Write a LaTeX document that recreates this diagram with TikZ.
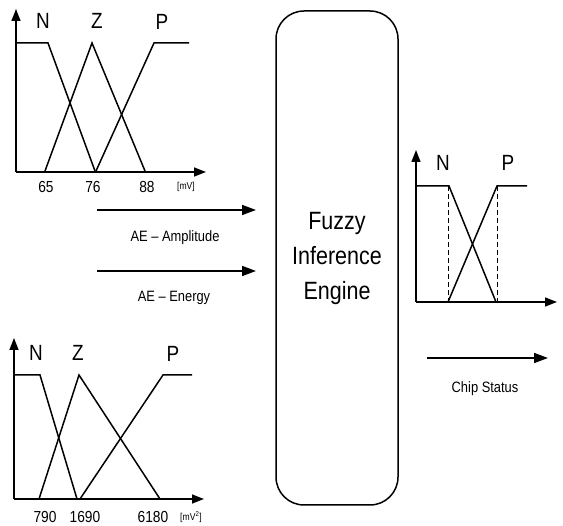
\documentclass[tikz,border=0pt]{standalone}
\usepackage{fontspec}
\setmainfont{Liberation Sans}
\newfontfamily\narrowfont{Liberation Sans}[FakeStretch=0.86,Ligatures=TeX]
\usetikzlibrary{arrows.meta}
\tikzset{
  axis/.style={line width=1.6pt,-{Triangle[length=12pt,width=9pt]}},
  mf/.style={line width=1.5pt},
  flow/.style={line width=1.6pt,-{Triangle[length=14pt,width=10pt]}},
  setlab/.style={font=\narrowfont\fontsize{22}{22}\selectfont,inner sep=0pt},
  ticklab/.style={font=\narrowfont\fontsize{16}{16}\selectfont,inner sep=0pt},
  unitlab/.style={font=\narrowfont\fontsize{10}{10}\selectfont,inner sep=0pt},
  caplab/.style={font=\narrowfont\fontsize{15}{15}\selectfont,inner sep=0pt},
  engine/.style={draw,line width=1.5pt,rounded corners=28pt,minimum width=122pt,minimum height=494pt,
    align=center,font=\narrowfont\fontsize{25}{35}\selectfont}
}
\begin{document}
\begin{tikzpicture}[x=1pt,y=-1pt]
\useasboundingbox (0,0) rectangle (563,526);
% engine
\node[engine] (eng) at (337,258) {Fuzzy\\Inference\\Engine};

% top chart
\coordinate (o1) at (16,172);
\coordinate (y1) at (16,9);
\coordinate (x1) at (206,172);
\draw[axis] (o1) -- (y1);
\draw[axis] (o1) -- (x1);
\draw[mf] (16,43) -- (48,43) -- (95,171);
\draw[mf] (45,171) -- (92,43) -- (145,171);
\draw[mf] (96,171) -- (154,43) -- (189,43);
\node[setlab] (n1) at (43,21) {N};
\node[setlab] (z1) at (97,21) {Z};
\node[setlab] (p1) at (162,22) {P};
\node[ticklab] (t65) at (46,187) {65};
\node[ticklab] (t76) at (93,187) {76};
\node[ticklab] (t88) at (147,187) {88};
\node[unitlab] (u1) at (186,187) {[mV]};

% arrows
\coordinate (a1s) at (97,210);
\coordinate (a1e) at (256,210);
\coordinate (a2s) at (97,271);
\coordinate (a2e) at (256,271);
\draw[flow] (a1s) -- (a1e);
\draw[flow] (a2s) -- (a2e);
\node[caplab] (amp) at (175,238) {AE – Amplitude};
\node[caplab] (ene) at (174,298) {AE – Energy};

% bottom chart
\coordinate (o2) at (14,499);
\coordinate (y2) at (14,338);
\coordinate (x2) at (204,499);
\draw[axis] (o2) -- (y2);
\draw[axis] (o2) -- (x2);
\draw[mf] (14,375) -- (40,375) -- (77,499);
\draw[mf] (39,499) -- (79,375) -- (160,499);
\draw[mf] (80,499) -- (163,375) -- (192,375);
\node[setlab] (n2) at (36,353) {N};
\node[setlab] (z2) at (78,353) {Z};
\node[setlab] (p2) at (173,354) {P};
\node[ticklab] (t790) at (45,517) {790};
\node[ticklab] (t1690) at (85,517) {1690};
\node[ticklab] (t6180) at (153,517) {6180};
\node[unitlab] (u2) at (191,517) {[mV\textsuperscript{2}]};

% right chart
\coordinate (o3) at (416,302);
\coordinate (y3) at (416,150);
\coordinate (x3) at (557,302);
\draw[axis] (o3) -- (y3);
\draw[axis] (o3) -- (x3);
\draw[mf] (416,186) -- (449,186) -- (496,302);
\draw[mf] (448,302) -- (497,186) -- (527,186);
\draw[line width=1pt,dash pattern=on 5pt off 3pt] (448,186) -- (448,302);
\draw[line width=1pt,dash pattern=on 5pt off 3pt] (497,186) -- (497,302);
\node[setlab] (n3) at (443,163) {N};
\node[setlab] (p3) at (508,163) {P};

\coordinate (cs) at (427,358);
\coordinate (ce) at (548,358);
\draw[flow] (cs) -- (ce);
\node[caplab] (chip) at (485,389) {Chip Status};
\end{tikzpicture}
\end{document}
